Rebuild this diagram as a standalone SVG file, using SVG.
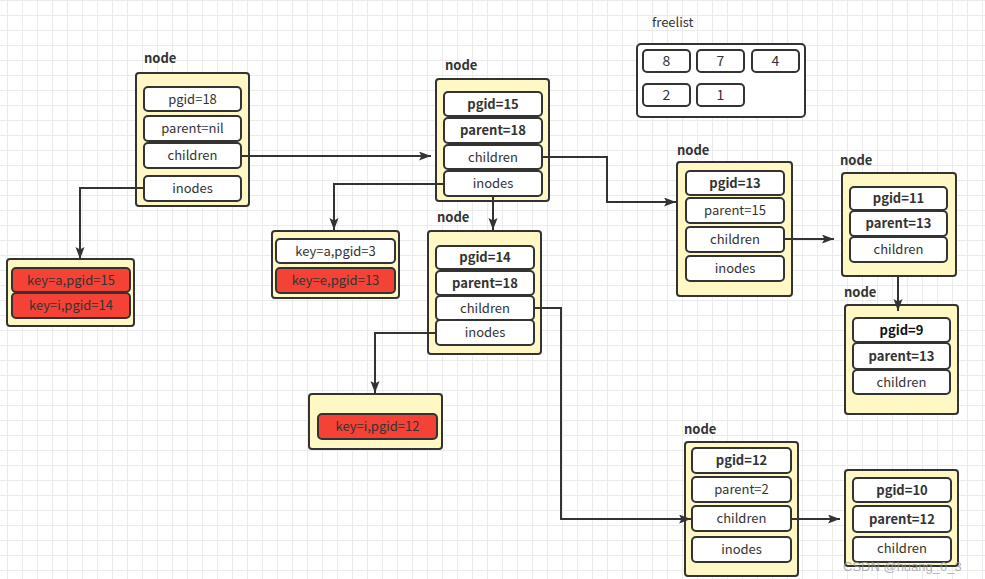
<svg xmlns="http://www.w3.org/2000/svg" width="985" height="579" viewBox="0 0 985 579">
<style>
text{font-family:"Noto Sans CJK SC","Noto Sans","Liberation Sans",sans-serif;fill:#333;}
.box{fill:#fff8c5;stroke:#333;stroke-width:2;}
.row{fill:#ffffff;stroke:#333;stroke-width:2;}
.red{fill:#f44336;stroke:#333;stroke-width:2;}
.t{font-size:13px;text-anchor:middle;}
.b{font-weight:bold;}
.lbl{font-size:13px;font-weight:bold;}
.num{font-size:14px;text-anchor:middle;}
.conn{fill:none;stroke:#333;stroke-width:2;}
</style>
<defs>
<pattern id="grid" x="7" y="0" width="15" height="15" patternUnits="userSpaceOnUse">
<path d="M0.5,0 V15 M0,0.5 H15" stroke="#ebebeb" stroke-width="1" fill="none"/>
</pattern>
<marker id="arr" markerUnits="userSpaceOnUse" markerWidth="13" markerHeight="10" refX="12" refY="4.5" orient="auto">
<path d="M0,0 L12,4.5 L0,9 L2.5,4.5 z" fill="#333"/>
</marker>
</defs>
<rect width="985" height="579" fill="#ffffff"/>
<rect width="985" height="579" fill="url(#grid)"/>

<g id="freelist">
<text x="652" y="27" style="font-size:13px">freelist</text>
<rect x="637" y="44" width="168" height="73" rx="4" fill="#fff" stroke="#333" stroke-width="2"/>
<rect class="row" x="643" y="50" width="47" height="22" rx="4"/><text class="num" x="666.5" y="66">8</text>
<rect class="row" x="697" y="50" width="47" height="22" rx="4"/><text class="num" x="720.5" y="66">7</text>
<rect class="row" x="752" y="50" width="47" height="22" rx="4"/><text class="num" x="775.5" y="66">4</text>
<rect class="row" x="643" y="84" width="47" height="22" rx="4"/><text class="num" x="666.5" y="100">2</text>
<rect class="row" x="697" y="84" width="47" height="22" rx="4"/><text class="num" x="720.5" y="100">1</text>
</g>

<g id="node18">
<text class="lbl" x="144" y="63">node</text>
<rect class="box" x="136" y="73" width="113" height="133" rx="3"/>
<rect class="row" x="144" y="87" width="97" height="24" rx="4"/><text class="t" x="192.5" y="103.5">pgid=18</text>
<rect class="row" x="144" y="116" width="97" height="25" rx="4"/><text class="t" x="192.5" y="133">parent=nil</text>
<rect class="row" x="144" y="143" width="97" height="25" rx="4"/><text class="t" x="192.5" y="160">children</text>
<rect class="row" x="144" y="176" width="97" height="25" rx="4"/><text class="t" x="192.5" y="193">inodes</text>
</g>

<g id="inodes18">
<rect class="box" x="7" y="259" width="127" height="67" rx="3"/>
<rect class="red" x="12" y="268" width="118" height="24" rx="4"/><text class="t" x="71" y="284.5">key=a,pgid=15</text>
<rect class="red" x="12" y="293" width="118" height="25" rx="4"/><text class="t" x="71" y="310">key=i,pgid=14</text>
</g>

<g id="node15">
<text class="lbl" x="445" y="70">node</text>
<rect class="box" x="436" y="79" width="113" height="122" rx="3"/>
<rect class="row" x="444" y="92" width="98" height="24" rx="4"/><text class="t b" x="493" y="108.5">pgid=15</text>
<rect class="row" x="444" y="118" width="98" height="25" rx="4"/><text class="t b" x="493" y="135">parent=18</text>
<rect class="row" x="444" y="145" width="98" height="24" rx="4"/><text class="t" x="493" y="161.5">children</text>
<rect class="row" x="444" y="171" width="98" height="25" rx="4"/><text class="t" x="493" y="188">inodes</text>
</g>

<g id="inodes15">
<rect class="box" x="272" y="231" width="127" height="67" rx="3"/>
<rect class="row" x="276" y="239" width="119" height="24" rx="4"/><text class="t" x="335.5" y="255.5">key=a,pgid=3</text>
<rect class="red" x="276" y="268" width="119" height="25" rx="4"/><text class="t" x="335.5" y="285">key=e,pgid=13</text>
</g>

<g id="node14">
<text class="lbl" x="437" y="222">node</text>
<rect class="box" x="428" y="231" width="113" height="123" rx="3"/>
<rect class="row" x="436" y="246" width="98" height="23" rx="4"/><text class="t b" x="485" y="262">pgid=14</text>
<rect class="row" x="436" y="271" width="98" height="24" rx="4"/><text class="t b" x="485" y="287.5">parent=18</text>
<rect class="row" x="436" y="296" width="98" height="24" rx="4"/><text class="t" x="485" y="312.5">children</text>
<rect class="row" x="436" y="320" width="98" height="25" rx="4"/><text class="t" x="485" y="337">inodes</text>
</g>

<g id="inodes14">
<rect class="box" x="309" y="394" width="133" height="55" rx="3"/>
<rect class="red" x="318" y="414" width="119" height="25" rx="4"/><text class="t" x="377.5" y="431">key=i,pgid=12</text>
</g>

<g id="node13">
<text class="lbl" x="677" y="155">node</text>
<rect class="box" x="677" y="162" width="115" height="134" rx="3"/>
<rect class="row" x="686" y="171" width="98" height="24" rx="4"/><text class="t b" x="735" y="187.5">pgid=13</text>
<rect class="row" x="686" y="198" width="98" height="25" rx="4"/><text class="t" x="735" y="215">parent=15</text>
<rect class="row" x="686" y="227" width="98" height="25" rx="4"/><text class="t" x="735" y="244">children</text>
<rect class="row" x="686" y="256" width="98" height="25" rx="4"/><text class="t" x="735" y="273">inodes</text>
</g>

<g id="node11">
<text class="lbl" x="840" y="165">node</text>
<rect class="box" x="842" y="173" width="114" height="103" rx="3"/>
<rect class="row" x="850" y="187" width="97" height="23" rx="4"/><text class="t b" x="898.5" y="203">pgid=11</text>
<rect class="row" x="850" y="211" width="97" height="25" rx="4"/><text class="t b" x="898.5" y="228">parent=13</text>
<rect class="row" x="850" y="237" width="97" height="25" rx="4"/><text class="t" x="898.5" y="254">children</text>
</g>

<g id="node9">
<text class="lbl" x="844" y="297">node</text>
<rect class="box" x="845" y="305" width="113" height="109" rx="3"/>
<rect class="row" x="853" y="318" width="97" height="24" rx="4"/><text class="t b" x="901.5" y="334.5" style="fill:#111">pgid=9</text>
<rect class="row" x="853" y="343" width="97" height="26" rx="4"/><text class="t b" x="901.5" y="360.5">parent=13</text>
<rect class="row" x="853" y="370" width="97" height="24" rx="4"/><text class="t" x="901.5" y="386.5">children</text>
</g>

<g id="node12">
<text class="lbl" x="684" y="434">node</text>
<rect class="box" x="685" y="442" width="113" height="134" rx="3"/>
<rect class="row" x="692" y="448" width="99" height="25" rx="4"/><text class="t b" x="741.5" y="465">pgid=12</text>
<rect class="row" x="692" y="477" width="99" height="25" rx="4"/><text class="t" x="741.5" y="494">parent=2</text>
<rect class="row" x="692" y="506" width="99" height="25" rx="4"/><text class="t" x="741.5" y="523">children</text>
<rect class="row" x="692" y="537" width="99" height="25" rx="4"/><text class="t" x="741.5" y="554">inodes</text>
</g>

<g id="node10">
<rect class="box" x="845" y="470" width="113" height="96" rx="3"/>
<rect class="row" x="853" y="478" width="98" height="24" rx="4"/><text class="t b" x="902" y="494.5">pgid=10</text>
<rect class="row" x="853" y="506" width="98" height="26" rx="4"/><text class="t b" x="902" y="523.5">parent=12</text>
<rect class="row" x="853" y="537" width="98" height="25" rx="4"/><text class="t" x="902" y="553">children</text>
</g>

<g id="connectors">
<path class="conn" d="M241,156 L431,156" marker-end="url(#arr)"/>
<path class="conn" d="M144,188 L80,188 L80,259" marker-end="url(#arr)"/>
<path class="conn" d="M444,184 L334,184 L334,230" marker-end="url(#arr)"/>
<path class="conn" d="M493,196 L493,230" marker-end="url(#arr)"/>
<path class="conn" d="M542,157 L607,157 L607,202 L676,202" marker-end="url(#arr)"/>
<path class="conn" d="M436,333 L375,333 L375,393" marker-end="url(#arr)"/>
<path class="conn" d="M534,308 L561,308 L561,519 L691,519" marker-end="url(#arr)"/>
<path class="conn" d="M784,239 L834,239" marker-end="url(#arr)"/>
<path class="conn" d="M898,276 L898,311" marker-end="url(#arr)"/>
<path class="conn" d="M791,519 L840,519" marker-end="url(#arr)"/>
</g>

<text x="843" y="571" style="font-size:13px;fill:#999;opacity:0.75;font-family:'Liberation Sans',sans-serif">CSDN @huang_0_3</text>
</svg>
